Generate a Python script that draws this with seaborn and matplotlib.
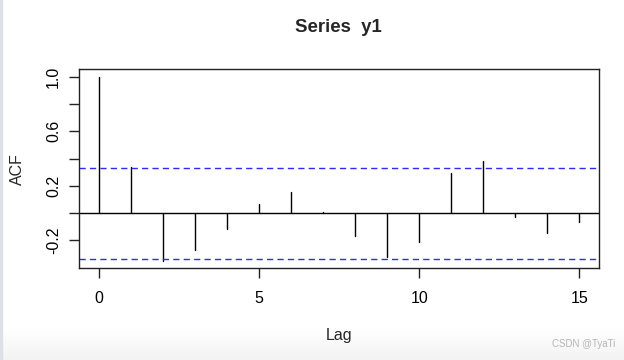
import numpy as np
import pandas as pd
import matplotlib
matplotlib.use("Agg")
import matplotlib.pyplot as plt
import seaborn as sns

# ---- data ----
lags = list(range(16))
acf_values = [1.0, 0.335, -0.347, -0.267, -0.119, 0.065, 0.155, 0.005,
              -0.165, -0.320, -0.214, 0.291, 0.381, -0.025, -0.146, -0.068]
conf_limit = 0.334
title = "Series  y1"
xticks = [0, 5, 10, 15]
yticks = [-0.2, 0.0, 0.2, 0.4, 0.6, 0.8, 1.0]
ytick_labels = ["-0.2", "", "0.2", "", "0.6", "", "1.0"]

sns.set_style("white")
plt.rcParams["font.family"] = ["Liberation Sans", "DejaVu Sans"]

fig = plt.figure(figsize=(6.24, 3.6), dpi=100)
fig.patch.set_facecolor("white")

# subtle screenshot shading at the bottom and left edge
bg = fig.add_axes([0, 0, 1, 32 / 360], zorder=-5)
grad = np.linspace(0.0, 1.0, 64).reshape(-1, 1)  # top row 0 (white) -> bottom 1 (gray)
bg.imshow(grad, aspect="auto", cmap=matplotlib.colors.LinearSegmentedColormap.from_list(
    "g", ["#ffffff", "#f3f3f3"]), extent=[0, 1, 0, 1], vmin=0, vmax=1, origin="upper")
bg.set_axis_off()
fig.patches.append(matplotlib.patches.Rectangle((0, 0), 2 / 624, 1, transform=fig.transFigure,
                                                color="#dde1e6", zorder=-4))

ax = fig.add_axes([79.3 / 624, 1 - 268.3 / 360, (598.7 - 79.3) / 624, (268.3 - 69.3) / 360])

# segments: each lag from 0 to its acf value
seg = pd.DataFrame({
    "lag": [l for l in lags for _ in range(2)],
    "acf": [v for a in acf_values for v in (0.0, a)],
})
sns.lineplot(data=seg, x="lag", y="acf", units="lag", estimator=None,
             color="black", linewidth=1.0, ax=ax, sort=False)

ax.axhline(0, color="black", linewidth=1.0)
for c in (conf_limit, -conf_limit):
    ax.axhline(c, color="#2d2df0", linewidth=1.0, linestyle=(0, (4.5, 3)))

ax.set_xlim(-0.6, 15.6)
ax.set_ylim(-0.404, 1.054)
ax.set_xticks(xticks)
ax.set_xticklabels([str(t) for t in xticks])
ax.set_yticks(yticks)
ax.set_yticklabels(ytick_labels, rotation=90, va="center")

for s in ax.spines.values():
    s.set_color("#222222")
    s.set_linewidth(1.0)
ax.tick_params(axis="both", direction="out", length=7.5, width=1.0, color="#222222",
               labelsize=11.5, labelcolor="black", left=True, bottom=True)
ax.tick_params(axis="x", pad=9)
ax.tick_params(axis="y", pad=5.5)

ax.set_xlabel("Lag", fontsize=11.5)
ax.set_ylabel("ACF", fontsize=11.5)
ax.xaxis.set_label_coords(0.5, -0.34)
ax.xaxis.label.set_va("center")
ax.yaxis.set_label_coords(-0.119, 0.5)
ax.yaxis.label.set_va("center")

fig.text(338.5 / 624, 1 - 27 / 360, title, ha="center", va="center",
         fontsize=13.4, fontweight="bold")
fig.text(615 / 624, 1 - 344 / 360, "CSDN @TyaTi", ha="right", va="center",
         fontsize=7, color="#b4b4b4")

fig.savefig("out.png", dpi=100)
